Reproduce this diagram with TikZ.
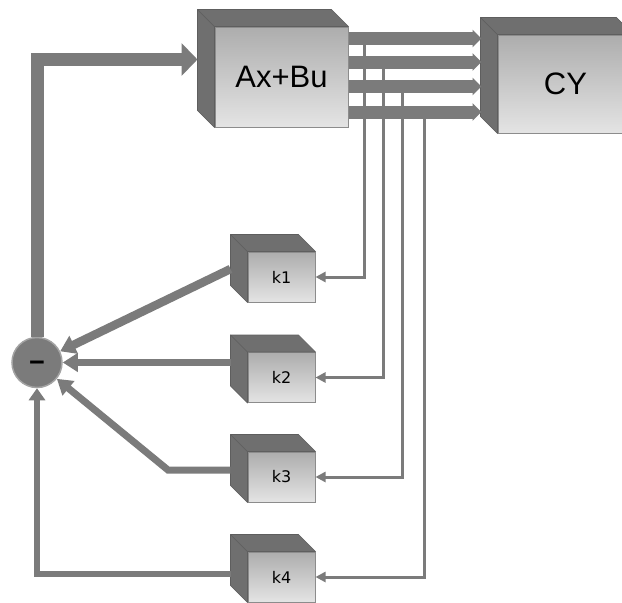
\documentclass[tikz,border=0pt]{standalone}
\usepackage{fontspec}
\setmainfont{Liberation Sans}
\newfontfamily\gainfont{DejaVu Sans}
\usetikzlibrary{arrows.meta,calc}

\definecolor{flow}{HTML}{7B7B7B}
\definecolor{sideface}{HTML}{6F6F6F}
\definecolor{sideedge}{HTML}{5E5E5E}
\definecolor{faceedge}{HTML}{8C8C8C}
\definecolor{facetop}{HTML}{ADADAD}
\definecolor{facebot}{HTML}{E4E4E4}

\tikzset{
  x=1pt, y=-1pt,
  facebox/.style={draw=faceedge, line width=1pt, top color=facetop,
    bottom color=facebot, inner sep=0pt, text=black},
  bigblock/.style={facebox, minimum width=133pt, minimum height=100pt,
    font=\fontsize{31}{34}\selectfont},
  gainblock/.style={facebox, minimum width=67pt, minimum height=50pt,
    font=\gainfont\fontsize{16}{18}\selectfont},
  sidefill/.style={fill=sideface, draw=sideedge, line width=0.6pt, line join=round},
  bus/.style={draw=flow, line width=13pt, -{Triangle[width=17pt,length=9pt]}},
  tap/.style={draw=flow, line width=3pt, -{Triangle[width=10pt,length=10pt]}},
  fbthick/.style={draw=flow, line width=8.5pt, line join=miter,
    -{Triangle[width=19pt,length=15pt]}},
  fbmid/.style={draw=flow, line width=7pt, line join=miter,
    -{Triangle[width=18pt,length=15pt]}},
  fbthin/.style={draw=flow, line width=6pt, line join=miter,
    -{Triangle[width=16pt,length=12pt]}},
  fbtop/.style={draw=flow, line width=13pt, line join=miter,
    -{Triangle[width=32pt,length=16pt]}},
  summer/.style={circle, minimum size=50pt, inner sep=0pt, fill=flow,
    draw=faceedge!80!white, line width=1.5pt, text height=17.5pt, text depth=0pt,
    font=\bfseries\fontsize{27}{27}\selectfont}
}

% side and top faces of a block drawn as a cube
\newcommand\cubefaces[2]{%
  \filldraw[sidefill] (#1.north west) -- ++(-#2,-#2)
    -- ($(#1.south west)+(-#2,-#2)$) -- (#1.south west) -- cycle;
  \filldraw[sidefill] (#1.north west) -- ++(-#2,-#2)
    -- ($(#1.north east)+(-#2,-#2)$) -- (#1.north east) -- cycle;
}

\begin{document}
\begin{tikzpicture}
\useasboundingbox (0,0) rectangle (622,603);
\clip (0,0) rectangle (622,603);

% blocks
\node[bigblock] (abu) at (281.5,77) {Ax+Bu};
\node[bigblock, minimum width=135pt, minimum height=98pt] (cy) at (565.5,84) {CY};
\node[gainblock] (k1) at (281.5,277) {k1};
\node[gainblock] (k2) at (281.5,377.5) {k2};
\node[gainblock] (k3) at (281.5,477) {k3};
\node[gainblock] (k4) at (281.5,577) {k4};
\node[summer] (sum) at (37,362.5) {−};

\cubefaces{abu}{17}
\cubefaces{cy}{17}
\cubefaces{k1}{17}
\cubefaces{k2}{17}
\cubefaces{k3}{17}
\cubefaces{k4}{17}

% state bus from Ax+Bu to CY
\coordinate (cyin) at ($(cy.west)+(-16,0)$);
\foreach \yy in {38.5,62,86.5,112}
  \draw[bus] (abu.east |- 0,\yy) -- (cyin |- 0,\yy);

% taps on the bus feeding the gains
\coordinate (t1) at (364,35);
\coordinate (t2) at (383,63);
\coordinate (t3) at (402,87);
\coordinate (t4) at (424,117);
\draw[tap] (t1) |- (k1.east);
\draw[tap] (t2) |- (k2.east);
\draw[tap] (t3) |- (k3.east);
\draw[tap] (t4) |- (k4.east);

% gain outputs into the summing point
\coordinate (k1out) at ($(k1.west)+(-17,-8)$);
\coordinate (k2out) at ($(k2.west)+(-17,-15)$);
\coordinate (k3out) at ($(k3.west)+(-17,-7)$);
\coordinate (k4out) at ($(k4.west)+(-17,-3)$);
\coordinate (bend3) at (168,470);
\draw[fbthick] (k1out) -- (sum);
\draw[fbmid] (k2out) -- (sum);
\draw[fbmid] (k3out) -- (bend3) -- (sum);
\draw[fbthin] (k4out) -| (sum.south);

% summing point back to the state block
\coordinate (abuin) at ($(abu.west)+(-17,-17.5)$);
\draw[fbtop] (sum.north) |- (abuin);
\end{tikzpicture}
\end{document}
